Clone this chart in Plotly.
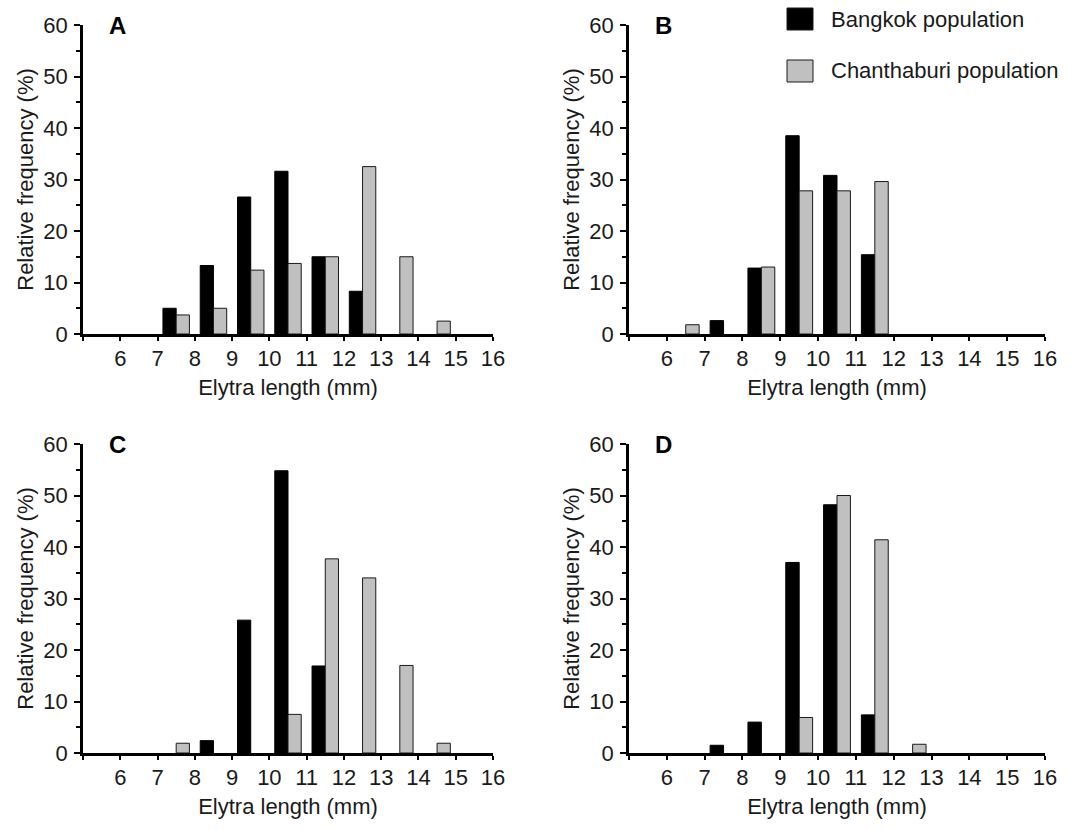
import plotly.graph_objects as go

# Elytra length bins (lower edge, mm); each bin spans [lower, lower + 1)
bin_lower = [5, 6, 7, 8, 9, 10, 11, 12, 13, 14, 15]
tick_labels = ["", "6", "7", "8", "9", "10", "11", "12", "13", "14", "15", "16"]

# Relative frequency (%) per bin for each panel
bangkok_a = [0, 0, 5.0, 13.3, 26.6, 31.6, 15.0, 8.3, 0, 0, 0]
chanthaburi_a = [0, 0, 3.7, 5.0, 12.4, 13.7, 15.0, 32.5, 15.0, 2.5, 0]

bangkok_b = [0, 0, 2.6, 12.8, 38.5, 30.8, 15.4, 0, 0, 0, 0]
chanthaburi_b = [0, 1.8, 0, 13.0, 27.8, 27.8, 29.6, 0, 0, 0, 0]

bangkok_c = [0, 0, 0, 2.4, 25.8, 54.8, 16.9, 0, 0, 0, 0]
chanthaburi_c = [0, 0, 1.9, 0, 0, 7.5, 37.7, 34.0, 17.0, 1.9, 0]

bangkok_d = [0, 0, 1.5, 6.0, 37.0, 48.2, 7.4, 0, 0, 0, 0]
chanthaburi_d = [0, 0, 0, 0, 6.9, 50.0, 41.4, 1.7, 0, 0, 0]

panels = [
    ("A", bangkok_a, chanthaburi_a),
    ("B", bangkok_b, chanthaburi_b),
    ("C", bangkok_c, chanthaburi_c),
    ("D", bangkok_d, chanthaburi_d),
]

W, H = 1075, 830
FONT = "Liberation Sans, Arial, sans-serif"
TXT = "#1a1a1a"
FS = 22

# pixel boxes of each plotting area: (left, right, top, bottom)
boxes = [
    (83, 493, 25, 334),
    (629, 1045, 25, 334),
    (83, 493, 444, 753),
    (629, 1045, 444, 753),
]

x_mid = [b + 0.5 for b in bin_lower]


def nonzero(vals):
    # empty bins are left undrawn so no outline sits on the axis
    return [v if v > 0 else None for v in vals]


fig = go.Figure()
for i, ((label, bkk, chb), (l, r, t, b)) in enumerate(zip(panels, boxes)):
    n = "" if i == 0 else str(i + 1)
    xa, ya = "x" + n, "y" + n
    fig.add_trace(go.Bar(
        x=x_mid, y=nonzero(bkk), name="Bangkok population",
        marker=dict(color="black", line=dict(color="black", width=1)),
        xaxis=xa, yaxis=ya, showlegend=False,
    ))
    fig.add_trace(go.Bar(
        x=x_mid, y=nonzero(chb), name="Chanthaburi population",
        marker=dict(color="#c0c0c0", line=dict(color="#1a1a1a", width=1)),
        xaxis=xa, yaxis=ya, showlegend=False,
    ))
    axis_common = dict(
        showline=True, linecolor="black", linewidth=2.5, showgrid=False,
        zeroline=False, ticks="outside", tickcolor="black", tickwidth=2,
        automargin=True,
        tickfont=dict(family=FONT, size=FS, color=TXT),
        title_font=dict(family=FONT, size=FS, color=TXT),
    )
    fig.update_layout(**{
        "xaxis" + n: dict(
            domain=[l / W, r / W], anchor=ya, range=[5, 16],
            tickvals=list(range(5, 17)), ticktext=tick_labels, ticklen=4,
            ticklabelstandoff=-1,
            title=dict(text="Elytra length (mm)", standoff=10),
            **axis_common,
        ),
        "yaxis" + n: dict(
            domain=[1 - b / H, 1 - t / H], anchor=xa, range=[0, 60],
            tickvals=list(range(0, 61, 10)), ticklen=6,
            ticklabelstandoff=2,
            minor=dict(tickvals=list(range(5, 60, 10)), ticks="outside",
                       ticklen=4, tickcolor="black", tickwidth=2),
            title=dict(text="Relative frequency (%)", standoff=4),
            **axis_common,
        ),
    })
    fig.add_annotation(
        x=(l + 34) / W, y=1 - t / H, xref="paper", yref="paper",
        text="<b>%s</b>" % label, showarrow=False, xanchor="center",
        yanchor="middle", font=dict(family=FONT, size=24, color="black"),
    )

# legend drawn in panel B
legend_items = [("Bangkok population", "black", 19), ("Chanthaburi population", "#c0c0c0", 71)]
for text, color, yc in legend_items:
    fig.add_shape(
        type="rect", xref="paper", yref="paper",
        x0=787 / W, x1=813 / W, y0=1 - (yc + 11) / H, y1=1 - (yc - 11) / H,
        fillcolor=color, line=dict(color="#1a1a1a", width=1),
    )
    fig.add_annotation(
        x=829 / W, y=1 - yc / H, xref="paper", yref="paper", text=text,
        showarrow=False, xanchor="left", yanchor="middle",
        font=dict(family=FONT, size=FS, color=TXT),
    )

fig.update_layout(
    width=W, height=H, margin=dict(l=0, r=0, t=0, b=0, autoexpand=False),
    paper_bgcolor="white", plot_bgcolor="white",
    barmode="group", bargap=0.29, bargroupgap=0,
    font=dict(family=FONT, color=TXT),
)

fig.write_html("out.html")
